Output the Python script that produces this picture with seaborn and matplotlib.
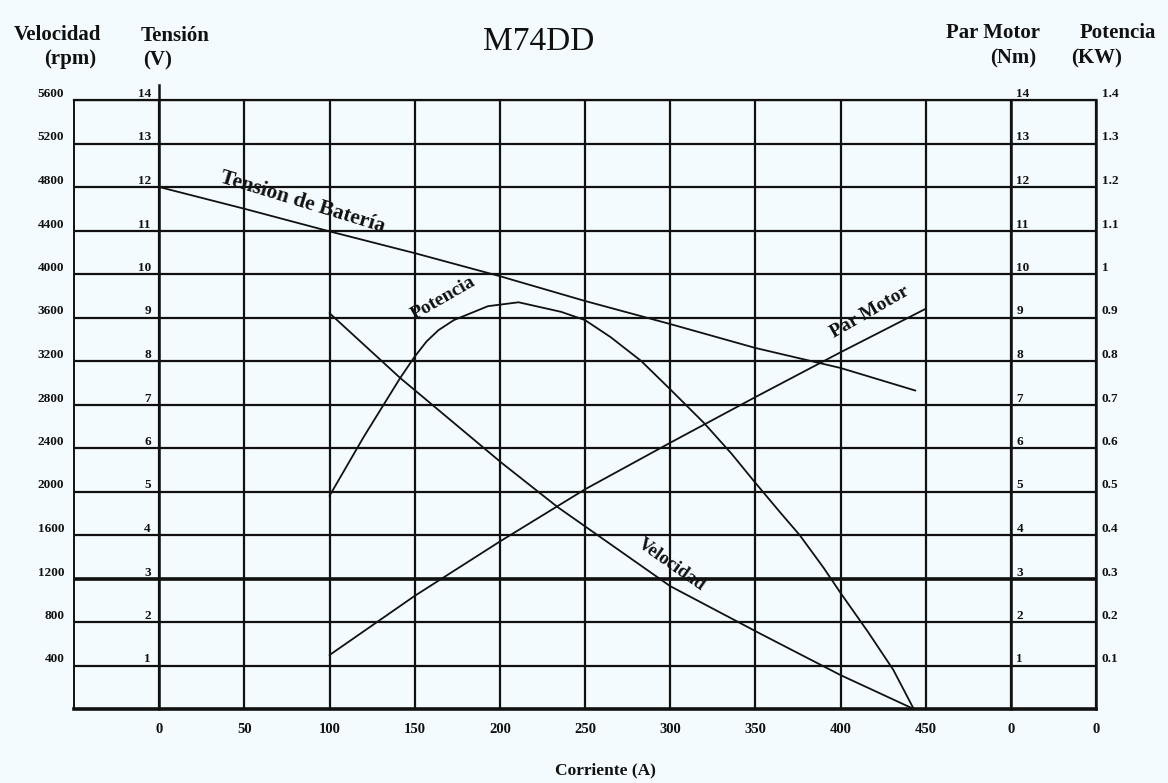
import matplotlib
matplotlib.use("Agg")
import matplotlib.pyplot as plt
import seaborn as sns

# ---------------- data ----------------
current_v = [0, 50, 100, 150, 200, 250, 300, 350, 400, 444]
tension_v = [12.0, 11.5, 10.98, 10.48, 9.95, 9.38, 8.85, 8.3, 7.84, 7.32]

current_rpm = [100, 141.5, 201, 234, 300, 352, 400, 443]
velocidad_rpm = [3640, 3044, 2264, 1856, 1130, 700, 312, 0]

current_kw = [100, 120, 141.5, 150, 157, 164, 173, 193, 211, 236, 250, 265,
              283, 300, 320, 336, 350, 365, 376, 390, 400, 416, 431, 443]
potencia_kw = [0.49, 0.625, 0.761, 0.81, 0.845, 0.871, 0.894, 0.926, 0.935,
               0.913, 0.894, 0.855, 0.80, 0.735, 0.657, 0.587, 0.52, 0.45,
               0.40, 0.325, 0.267, 0.178, 0.09, 0.0]

current_nm = [100, 150, 200, 250, 300, 350, 400, 450]
par_nm = [1.24, 2.6, 3.85, 5.05, 6.12, 7.17, 8.2, 9.2]

x_ticks = [0, 50, 100, 150, 200, 250, 300, 350, 400, 450, 500, 550]
x_labels = ["0", "50", "100", "150", "200", "250", "300", "350", "400",
            "450", "0", "0"]
v_ticks = list(range(1, 15))
v_labels = [str(v) for v in v_ticks]
rpm_ticks = [400 * v for v in range(1, 15)]
rpm_labels = [str(v) for v in rpm_ticks]
nm_ticks = list(range(1, 15))
nm_labels = [str(v) for v in nm_ticks]
kw_ticks = [v / 10 for v in range(1, 15)]
kw_labels = ["0.1", "0.2", "0.3", "0.4", "0.5", "0.6", "0.7", "0.8", "0.9",
             "1", "1.1", "1.2", "1.3", "1.4"]

# ---------------- style ----------------
sns.set_theme(style="white")
plt.rcParams["font.family"] = ["Liberation Serif", "DejaVu Serif"]
BG = "#f3fbfe"
INK = "#111111"
W, H = 1168, 783

fig = plt.figure(figsize=(W / 100, H / 100), dpi=100, facecolor=BG)
L, R, T, B = 74, 1096, 100, 709
ax = fig.add_axes([L / W, 1 - B / H, (R - L) / W, (B - T) / H])
ax.set_facecolor(BG)

ax_rpm = ax.twinx()
ax_nm = ax.twinx()
ax_kw = ax.twinx()

lw = 1.3
sns.lineplot(x=current_v, y=tension_v, ax=ax, color=INK, lw=lw)
sns.lineplot(x=current_rpm, y=velocidad_rpm, ax=ax_rpm, color=INK, lw=lw)
sns.lineplot(x=current_nm, y=par_nm, ax=ax_nm, color=INK, lw=lw)
sns.lineplot(x=current_kw, y=potencia_kw, ax=ax_kw, color=INK, lw=lw)

ax.set_xlim(-50, 550)
ax.set_ylim(0, 14)
ax_rpm.set_ylim(0, 5600)
ax_nm.set_ylim(0, 14)
ax_kw.set_ylim(0, 1.4)
for a in (ax, ax_rpm, ax_nm, ax_kw):
    a.set_xlabel("")
    a.set_ylabel("")

# spines (positions first: moving a spine resets its axis ticks)
for s in ax.spines.values():
    s.set_color(INK)
ax.spines["left"].set_position(("data", 0))
ax.spines["left"].set_linewidth(1.8)
ax.spines["left"].set_bounds(0, 14.35)
ax.spines["right"].set_visible(False)
ax.spines["top"].set_linewidth(1.6)
ax.spines["bottom"].set_linewidth(2.6)

for a in (ax_rpm, ax_nm, ax_kw):
    for s in a.spines.values():
        s.set_visible(False)
ax_rpm.yaxis.set_ticks_position("left")
ax_rpm.yaxis.set_label_position("left")
ax_rpm.spines["left"].set_visible(True)
ax_rpm.spines["left"].set_color(INK)
ax_rpm.spines["left"].set_linewidth(1.4)

ax_nm.spines["right"].set_visible(True)
ax_nm.spines["right"].set_position(("data", 500))
ax_nm.spines["right"].set_color(INK)
ax_nm.spines["right"].set_linewidth(1.8)

ax_kw.spines["right"].set_visible(True)
ax_kw.spines["right"].set_color(INK)
ax_kw.spines["right"].set_linewidth(1.8)

# grid and ticks
ax.set_xticks(x_ticks, x_labels, fontweight="bold")
ax.set_yticks(v_ticks, v_labels, fontweight="bold", va="bottom")
ax.grid(True, color=INK, lw=1.6)
ax.axhline(3, color=INK, lw=2.6)
ax.tick_params(axis="x", length=0, pad=10, labelsize=10.5, colors=INK)
ax.tick_params(axis="y", length=0, pad=6, labelsize=9.5, colors=INK)

ax_rpm.set_yticks(rpm_ticks, rpm_labels, fontweight="bold", va="bottom")
ax_rpm.tick_params(axis="y", length=0, pad=7, labelsize=9.5, colors=INK)

ax_nm.set_yticks(nm_ticks, nm_labels, fontweight="bold", va="bottom")
ax_nm.tick_params(axis="y", length=0, pad=4, labelsize=9.5, colors=INK)

ax_kw.set_yticks(kw_ticks, kw_labels, fontweight="bold", va="bottom")
ax_kw.tick_params(axis="y", length=0, pad=4, labelsize=9.5, colors=INK)

# curve labels
lab_kw = dict(color=INK, fontweight="bold", ha="center", va="center",
              rotation_mode="anchor")
ax.text(84, 11.65, "Tension de Batería", rotation=-17, fontsize=15.5, **lab_kw)
ax.text(167, 9.45, "Potencia", rotation=30, fontsize=14, **lab_kw)
ax.text(417, 9.12, "Par Motor", rotation=30, fontsize=14, **lab_kw)
ax.text(301, 3.32, "Velocidad", rotation=-35, fontsize=13.5, **lab_kw)

# headers
def ftext(px, py, s, **kw):
    fig.text(px / W, 1 - py / H, s, color=INK, va="center", **kw)

hdr = dict(fontsize=15, fontweight="bold")
ftext(57, 35, "Velocidad", ha="center", **hdr)
ftext(70, 59, "(rpm)", ha="center", **hdr)
ftext(141, 36, "Tensión", ha="left", **hdr)
ftext(143, 60, "(V)", ha="left", **hdr)
ftext(993, 33, "Par Motor", ha="center", **hdr)
ftext(1013, 58, "(Nm)", ha="center", **hdr)
ftext(1118, 33, "Potencia", ha="center", **hdr)
ftext(1097, 58, "(KW)", ha="center", **hdr)
ftext(539, 42, "M74DD", ha="center", fontsize=24)
ftext(605, 770, "Corriente (A)", ha="center", fontsize=12.5, fontweight="bold")

fig.savefig("out.png", dpi=100, facecolor=BG)
